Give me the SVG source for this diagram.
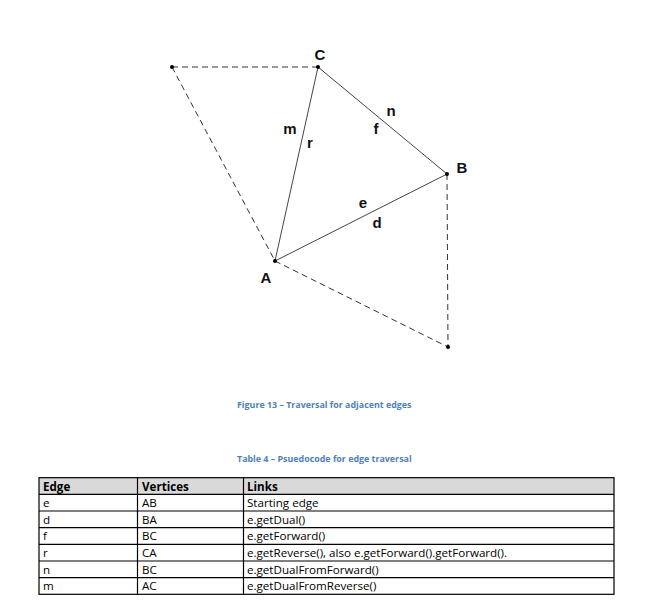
<svg xmlns="http://www.w3.org/2000/svg" width="671" height="601" viewBox="0 0 671 601">
<style>
.solid{stroke:#444;stroke-width:1;fill:none}
.dash{stroke:#333;stroke-width:1;stroke-dasharray:6,4;fill:none}
.dot{fill:#000}
.lbl{font-family:"Liberation Sans",Arial,sans-serif;font-weight:bold;font-size:15px;fill:#111;text-anchor:middle}
.cap{font-family:"Open Sans","Liberation Sans",sans-serif;font-weight:bold;font-size:8.9px;fill:#4F81BD}
.cell{font-family:"Open Sans","Liberation Sans",sans-serif;font-size:11.6px;fill:#000}
.hdr{font-weight:bold}
.grid{stroke:#000;stroke-width:1.2;fill:none}
</style>
<rect width="671" height="601" fill="#fff"/>
<g id="connectors">
<line class="dash" x1="172" y1="67" x2="318" y2="67"/>
<line class="dash" x1="172" y1="67" x2="275" y2="261"/>
<line class="dash" x1="447" y1="174" x2="448" y2="347"/>
<line class="dash" x1="275" y1="261" x2="448" y2="347"/>
<line class="solid" x1="318" y1="67" x2="275" y2="261"/>
<line class="solid" x1="318" y1="67" x2="447" y2="174"/>
<line class="solid" x1="275" y1="261" x2="447" y2="174"/>
</g>
<g id="node-C"><circle class="dot" cx="318" cy="67" r="2"/><text class="lbl" x="320" y="60" font-size="15.5">C</text></g>
<g id="node-B"><circle class="dot" cx="447" cy="174" r="2"/><text class="lbl" x="462" y="173" font-size="15.5">B</text></g>
<g id="node-A"><circle class="dot" cx="275" cy="261" r="2"/><text class="lbl" x="266" y="283" font-size="15.5">A</text></g>
<g id="node-P1"><circle class="dot" cx="172" cy="67" r="2"/></g>
<g id="node-P2"><circle class="dot" cx="448" cy="347" r="2"/></g>
<g id="edge-labels">
<text class="lbl" x="290" y="134">m</text>
<text class="lbl" x="310" y="148">r</text>
<text class="lbl" x="391" y="116">n</text>
<text class="lbl" x="376" y="134">f</text>
<text class="lbl" x="363" y="208">e</text>
<text class="lbl" x="377" y="228">d</text>
</g>
<g id="captions">
<text class="cap" x="237" y="408">Figure 13 – Traversal for adjacent edges</text>
<text class="cap" x="237" y="462">Table 4 – Psuedocode for edge traversal</text>
</g>
<g id="table">
<rect x="39" y="477.7" width="575" height="16.6" fill="#d9d9d9"/>
<rect class="grid" x="39" y="477.7" width="575" height="116.6"/>
<line class="grid" x1="39" y1="494.3" x2="614" y2="494.3"/>
<line class="grid" x1="39" y1="511" x2="614" y2="511"/>
<line class="grid" x1="39" y1="527.6" x2="614" y2="527.6"/>
<line class="grid" x1="39" y1="544.3" x2="614" y2="544.3"/>
<line class="grid" x1="39" y1="561" x2="614" y2="561"/>
<line class="grid" x1="39" y1="577.7" x2="614" y2="577.7"/>
<line class="grid" x1="137.5" y1="477.7" x2="137.5" y2="594.3"/>
<line class="grid" x1="243.5" y1="477.7" x2="243.5" y2="594.3"/>
<text class="cell hdr" x="43" y="490.5">Edge</text>
<text class="cell hdr" x="142" y="490.5">Vertices</text>
<text class="cell hdr" x="247" y="490.5">Links</text>
<text class="cell" x="43" y="507">e</text><text class="cell" x="142" y="507">AB</text><text class="cell" x="247" y="507">Starting edge</text>
<text class="cell" x="43" y="523.7">d</text><text class="cell" x="142" y="523.7">BA</text><text class="cell" x="247" y="523.7">e.getDual()</text>
<text class="cell" x="43" y="540.3">f</text><text class="cell" x="142" y="540.3">BC</text><text class="cell" x="247" y="540.3">e.getForward()</text>
<text class="cell" x="43" y="557">r</text><text class="cell" x="142" y="557">CA</text><text class="cell" x="247" y="557">e.getReverse(), also e.getForward().getForward().</text>
<text class="cell" x="43" y="573.7">n</text><text class="cell" x="142" y="573.7">BC</text><text class="cell" x="247" y="573.7">e.getDualFromForward()</text>
<text class="cell" x="43" y="590.3">m</text><text class="cell" x="142" y="590.3">AC</text><text class="cell" x="247" y="590.3">e.getDualFromReverse()</text>
</g>
</svg>
